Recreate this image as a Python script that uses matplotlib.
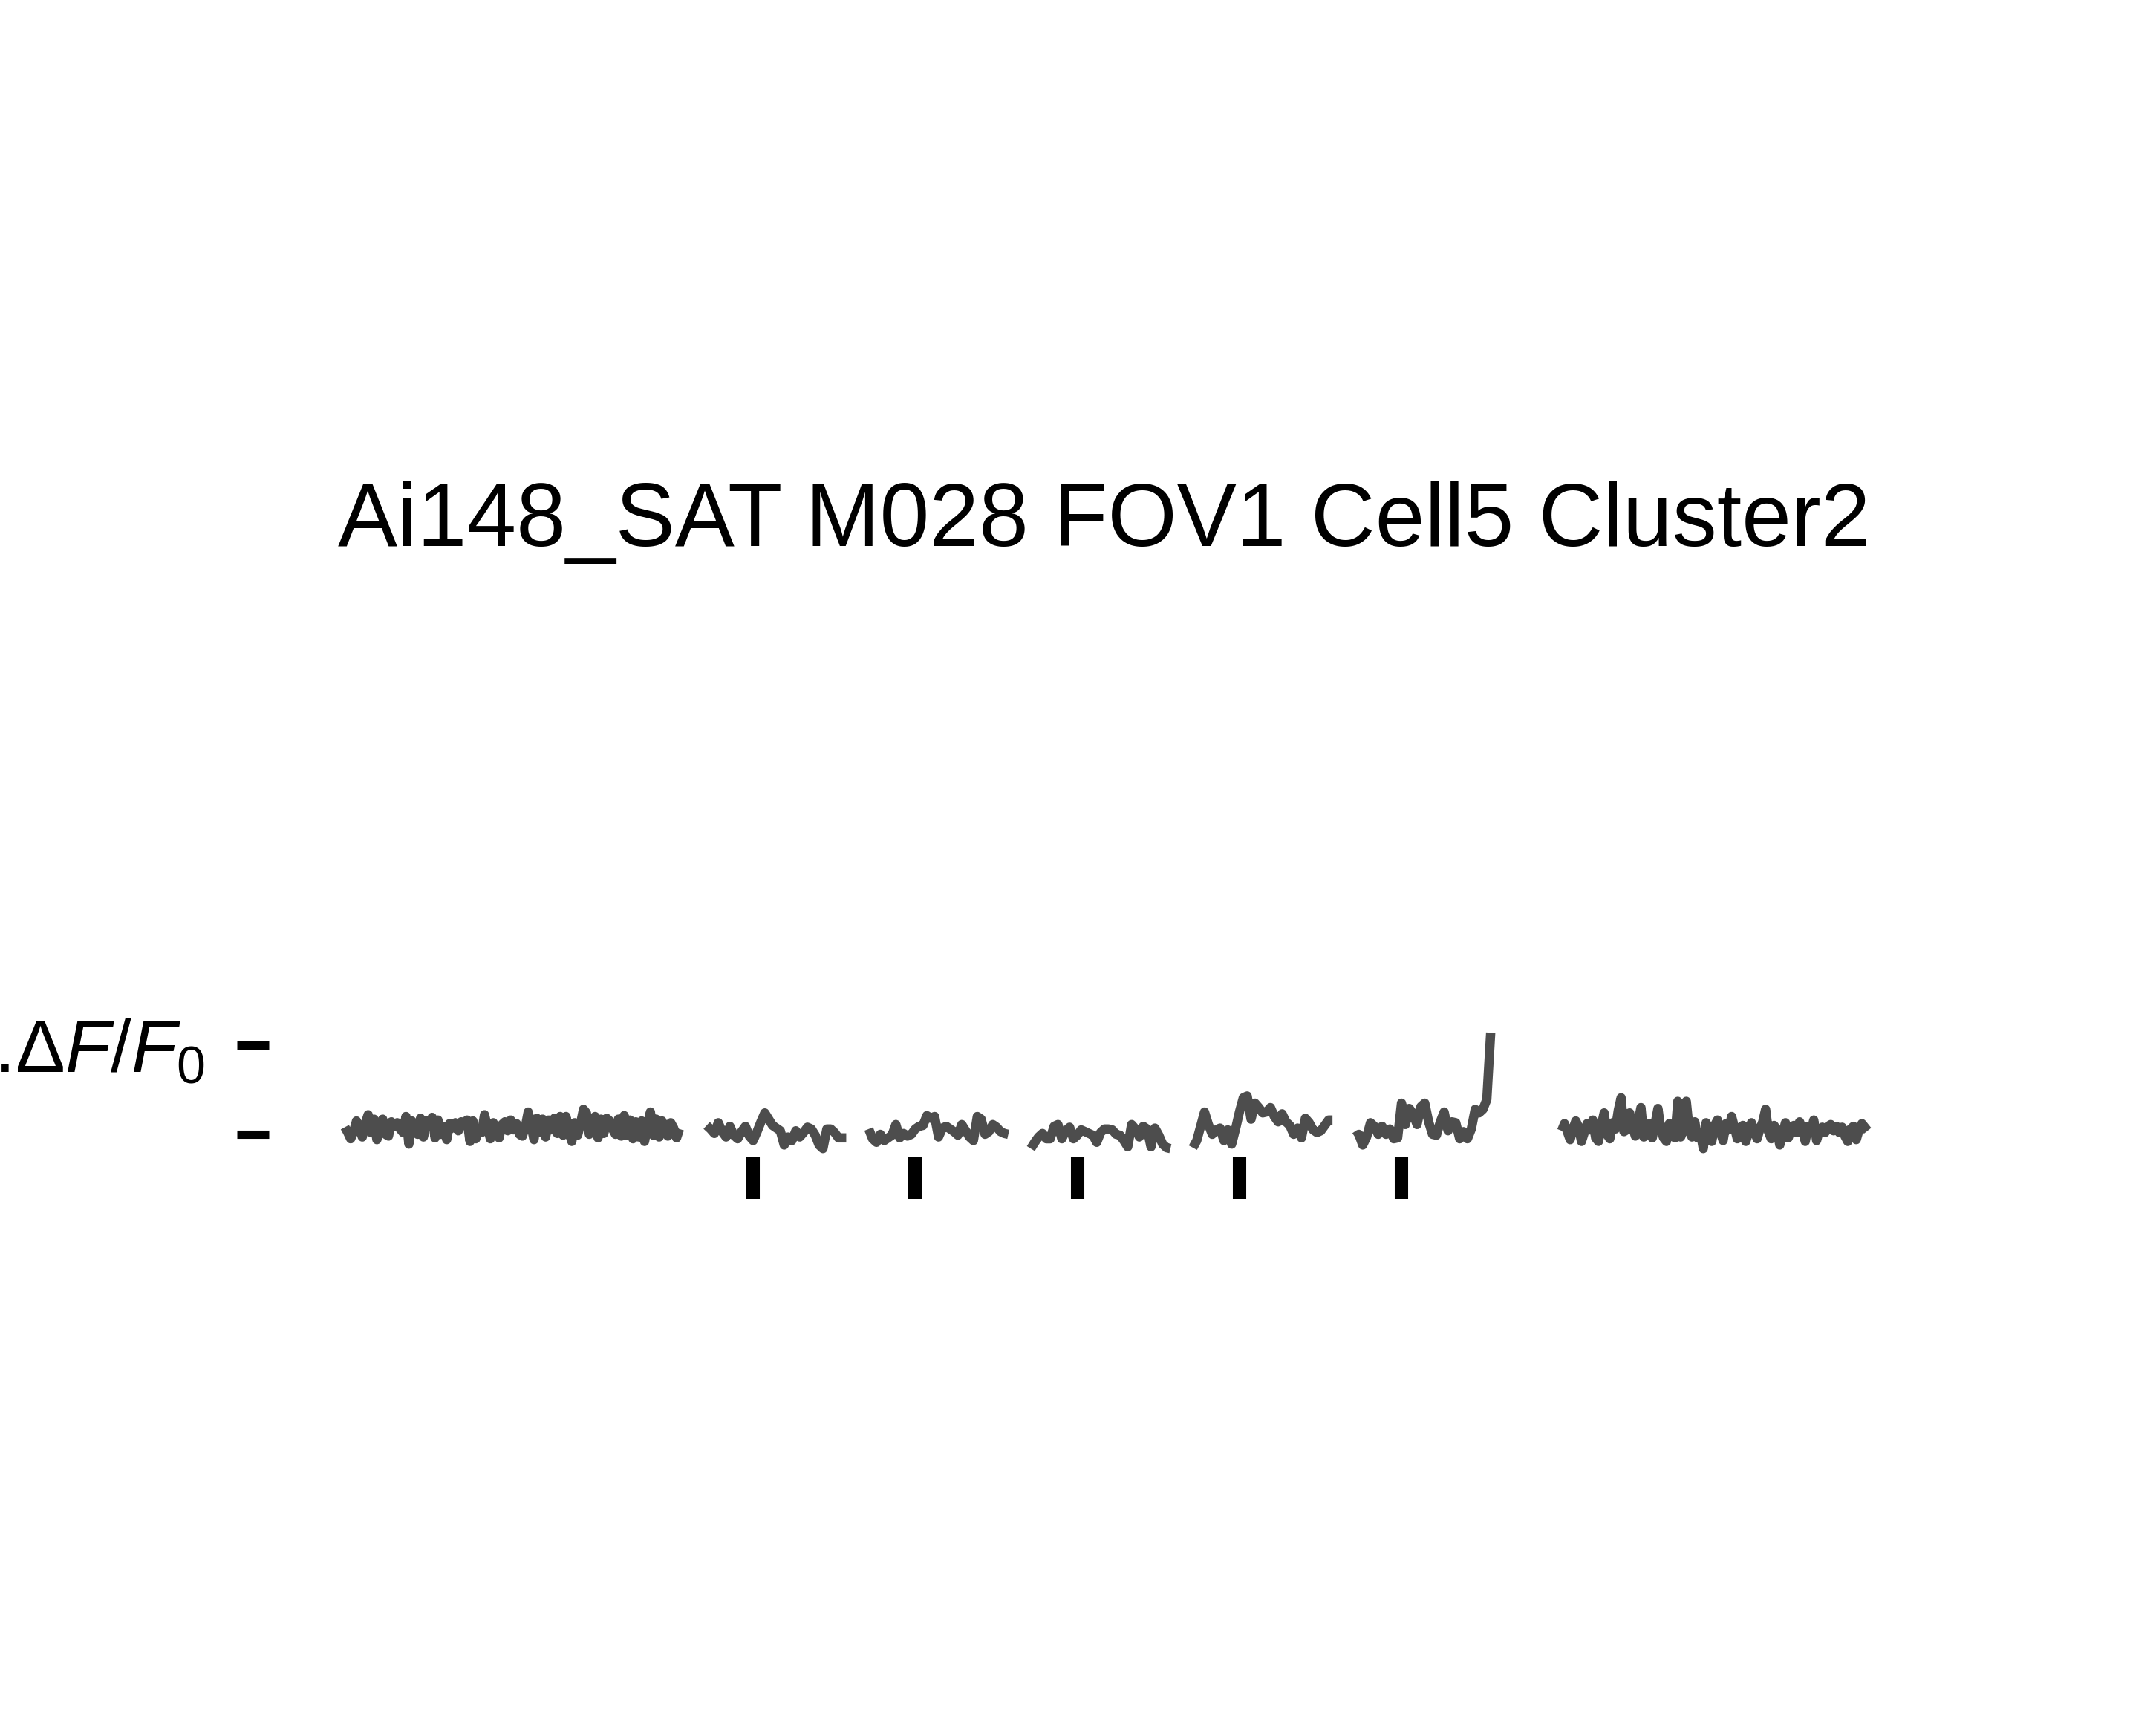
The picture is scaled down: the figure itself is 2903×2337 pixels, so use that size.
import numpy as np
import matplotlib
matplotlib.use("Agg")
import matplotlib.pyplot as plt

plt.rcParams['font.family'] = ['Liberation Sans', 'DejaVu Sans']
plt.rcParams['mathtext.fontset'] = 'custom'
plt.rcParams['mathtext.rm'] = 'Liberation Sans'
plt.rcParams['mathtext.it'] = 'Liberation Sans:italic'
plt.rcParams['mathtext.bf'] = 'Liberation Sans:bold'

title = "Ai148_SAT M028 FOV1 Cell5 Cluster2"
scale_label = r"1.$\Delta F/F_0$"
scale_ticks = [0, 1]

# time axis in imaging frames, relative to the first stimulus
trial_first_frame = -12
trial_spacing = 41.8
n_trials = 5
pre_span = (-105.3, -19.0)
post_span = (208.5, 287.4)
stim_bar_top = -0.26
stim_bar_bottom = -0.725

pre_vals = [
    0.08, 0.02, -0.05, 0.03, 0.15, 0.06, -0.03, 0.12, 0.22, 0.02,
    0.17, -0.06, 0.05, 0.17, 0.00, -0.02, 0.14, 0.09, 0.13, 0.06,
    0.02, 0.20, -0.11, 0.15, 0.08, 0.00, 0.18, -0.03, 0.15, 0.10,
    0.19, -0.04, 0.16, 0.00, 0.09, -0.06, 0.12, 0.07, 0.13, 0.04,
    0.14, 0.10, 0.16, -0.08, 0.15, -0.05, 0.06, 0.02, 0.22, 0.08,
    -0.05, 0.13, 0.03, -0.04, 0.11, 0.14, 0.04, 0.16, 0.05, 0.12,
    0.00, -0.02, 0.08, 0.25, 0.10, -0.06, 0.18, 0.02, 0.17, -0.03,
    0.16, 0.05, 0.18, 0.01, 0.20, -0.01, 0.20, 0.02, -0.08, 0.13,
    -0.01, 0.12, 0.28, 0.24, 0.00, 0.11, 0.20, -0.04, 0.17, 0.01,
    0.18, 0.15, 0.06, 0.00, 0.17, -0.02, 0.21, -0.01, 0.16, -0.05,
    0.14, -0.03, 0.15, -0.08, 0.10, 0.25, -0.01, 0.17, -0.03, 0.15,
    0.04, -0.02, 0.13, 0.07, -0.04, 0.06,
]

trial1 = [
    0.10, 0.06, 0.01, 0.13, 0.03, -0.03, 0.09, -0.01, -0.05, 0.03,
    0.09, -0.02, -0.07, 0.03, 0.14, 0.24, 0.17, 0.10, 0.07, 0.04,
    -0.12, -0.03, -0.07, 0.04, -0.03, 0.02, 0.08, 0.06, -0.01, -0.12,
    -0.16, 0.06, 0.06, 0.02, -0.04, -0.04, -0.04,
]
trial2 = [
    0.06, -0.05, -0.09, 0.00, -0.07, -0.04, -0.01, 0.11, -0.04, 0.01,
    -0.02, 0.00, 0.06, 0.09, 0.10, 0.21, 0.18, 0.20, -0.03, 0.07,
    0.09, 0.06, 0.03, -0.01, 0.11, 0.04, -0.03, -0.07, 0.20, 0.17,
    0.00, 0.03, 0.11, 0.08, 0.03, 0.01, 0.00,
]
trial3 = [
    -0.16, -0.09, -0.03, 0.01, -0.05, -0.05, 0.09, 0.11, -0.05, 0.04,
    0.08, -0.05, -0.01, 0.05, 0.03, 0.01, -0.01, -0.09, 0.02, 0.06,
    0.06, 0.05, 0.00, -0.01, -0.07, -0.14, 0.11, 0.06, -0.03, 0.09,
    0.06, -0.14, 0.07, -0.01, -0.11, -0.15, -0.16,
]
trial4 = [
    -0.15, -0.07, 0.09, 0.25, 0.11, 0.00, 0.05, 0.07, -0.07, 0.05,
    -0.11, 0.06, 0.25, 0.41, 0.43, 0.17, 0.35, 0.30, 0.24, 0.25,
    0.30, 0.20, 0.14, 0.23, 0.14, 0.10, 0.00, 0.07, -0.04, 0.18,
    0.13, 0.05, 0.02, 0.04, 0.10, 0.16, 0.16,
]
trial5 = [
    -0.03, 0.00, -0.12, -0.03, 0.13, 0.09, 0.00, 0.09, 0.00, 0.06,
    -0.05, -0.04, 0.35, 0.11, 0.29, 0.23, 0.11, 0.31, 0.35, 0.14,
    0.00, -0.01, 0.14, 0.25, 0.04, 0.14, 0.13, -0.05, 0.03, -0.05,
    0.06, 0.28, 0.24, 0.28, 0.39, 1.14,
]
trials = [trial1, trial2, trial3, trial4, trial5]

post_vals = [
    0.04, 0.12, 0.03, -0.06, 0.06, 0.15, 0.08, -0.08, 0.02, 0.12,
    0.05, 0.16, -0.04, -0.08, 0.10, 0.24, 0.00, -0.05, 0.13, 0.06,
    0.27, 0.41, 0.03, 0.05, 0.24, 0.10, -0.02, 0.14, 0.30, -0.03,
    0.10, 0.12, -0.04, 0.12, 0.29, 0.05, -0.04, -0.08, 0.12, 0.06,
    -0.04, 0.37, -0.03, 0.04, 0.37, 0.06, -0.03, 0.14, -0.04, 0.02,
    -0.16, 0.13, 0.06, -0.08, 0.10, 0.16, 0.03, -0.07, 0.12, 0.05,
    0.20, 0.08, -0.05, 0.07, 0.10, -0.08, 0.02, 0.13, 0.04, -0.05,
    0.06, 0.14, 0.28, 0.03, -0.05, 0.10, 0.05, -0.12, 0.00, 0.13,
    -0.04, 0.06, 0.10, 0.02, 0.14, 0.05, -0.08, 0.09, 0.03, 0.16,
    -0.07, 0.05, 0.08, 0.02, 0.09, 0.11, 0.04, 0.09, 0.02, 0.08,
    -0.02, -0.08, 0.06, 0.09, -0.06, 0.05, 0.12, 0.08, 0.04,
]

W, H, DPI = 2903, 2337, 100
fig = plt.figure(figsize=(W / DPI, H / DPI), dpi=DPI)
ax = fig.add_axes([362 / W, 1 - 1647 / H, 2255 / W, 300 / H])

trace_kw = dict(color='#4d4d4d', lw=9, solid_capstyle='butt', solid_joinstyle='round')

pre_x = np.linspace(pre_span[0], pre_span[1], len(pre_vals))
ax.plot(pre_x, pre_vals, **trace_kw)

stim_times = []
for k, tr in enumerate(trials):
    x = k * trial_spacing + trial_first_frame + np.arange(len(tr))
    ax.plot(x, tr, **trace_kw)
    stim_times.append(k * trial_spacing)

post_x = np.linspace(post_span[0], post_span[1], len(post_vals))
ax.plot(post_x, post_vals, **trace_kw)

ax.vlines(stim_times, stim_bar_bottom, stim_bar_top, color='black', lw=13,
          capstyle='butt')

ax.set_xlim(-124.9, 307.0)
ax.set_ylim(-1.0, 1.5)
for s in ax.spines.values():
    s.set_visible(False)
ax.xaxis.set_visible(False)
ax.set_yticks(scale_ticks)
ax.set_yticklabels(['', scale_label])
ax.tick_params(axis='y', length=31, width=8, pad=31, labelsize=72, color='black')

fig.text(1487 / W, 1 - 735 / H, title, ha='center', va='baseline', fontsize=86.4)

fig.savefig('out.png', dpi=DPI)
